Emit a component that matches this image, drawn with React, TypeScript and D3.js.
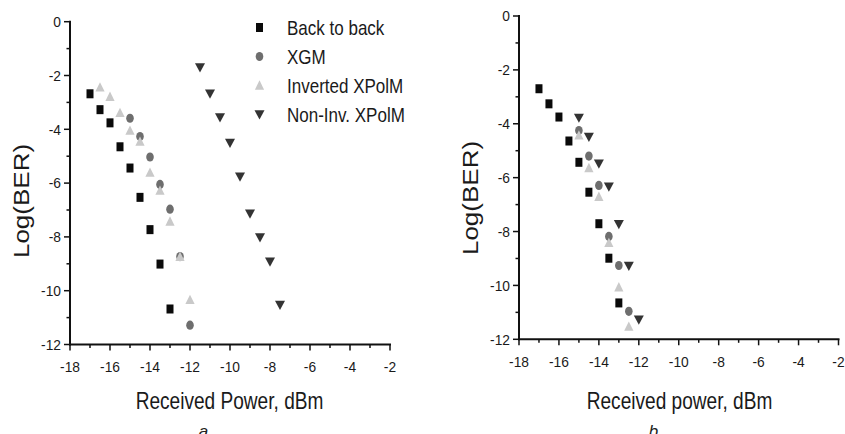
import React from "react";
import * as d3 from "d3";

// ---------- data ----------
const seriesNames = ["Back to back", "XGM", "Inverted XPolM", "Non-Inv. XPolM"];

// Panel a
const aB2BX = [-17, -16.5, -16, -15.5, -15, -14.5, -14, -13.5, -13];
const aB2BY = [-2.68, -3.27, -3.76, -4.65, -5.44, -6.53, -7.73, -9.01, -10.68];
const aXGMX = [-15, -14.5, -14, -13.5, -13, -12.5, -12];
const aXGMY = [-3.59, -4.27, -5.03, -6.05, -6.97, -8.73, -11.28];
const aInvX = [-16.5, -16, -15.5, -15, -14.5, -14, -13.5, -13, -12.5, -12];
const aInvY = [-2.44, -2.79, -3.39, -4.05, -4.46, -5.61, -6.28, -7.43, -8.74, -10.34];
const aNonX = [-11.5, -11, -10.5, -10, -9.5, -9, -8.5, -8, -7.5];
const aNonY = [-1.7, -2.68, -3.56, -4.51, -5.76, -7.14, -8.02, -8.92, -10.53];

// Panel b
const bB2BX = [-17, -16.5, -16, -15.5, -15, -14.5, -14, -13.5, -13];
const bB2BY = [-2.7, -3.26, -3.75, -4.64, -5.43, -6.54, -7.71, -8.99, -10.65];
const bXGMX = [-15, -14.5, -14, -13.5, -13, -12.5];
const bXGMY = [-4.25, -5.2, -6.29, -8.18, -9.26, -10.96];
const bInvX = [-15, -14.5, -14, -13.5, -13, -12.5];
const bInvY = [-4.43, -5.64, -6.71, -8.42, -10.07, -11.53];
const bNonX = [-15, -14.5, -14, -13.5, -13, -12.5, -12];
const bNonY = [-3.78, -4.49, -5.48, -6.34, -7.73, -9.28, -11.27];

const xDomain = [-18, -2];
const yDomain = [-12, 0];
const xMajor = [-18, -16, -14, -12, -10, -8, -6, -4, -2];
const yMajor = [0, -2, -4, -6, -8, -10, -12];

const COLORS = ["#0a0a0a", "#6e6e6e", "#c9c9c9", "#333333"];
const FONT = "'Liberation Sans', Arial, sans-serif";

type Pt = [number, number];
const zip = (xs: number[], ys: number[]): Pt[] => xs.map((x, i) => [x, ys[i]]);

function Marker({ kind, x, y }: { kind: number; x: number; y: number }) {
  const c = COLORS[kind];
  if (kind === 0) return <rect x={x - 3.5} y={y - 4.5} width={7} height={9} fill={c} />;
  if (kind === 1) return <ellipse cx={x} cy={y} rx={3.8} ry={4.6} fill={c} />;
  if (kind === 2)
    return <path d={`M${x},${y - 5.2}L${x + 4.6},${y + 4.2}L${x - 4.6},${y + 4.2}Z`} fill={c} />;
  return <path d={`M${x - 5},${y - 4.2}L${x + 5},${y - 4.2}L${x},${y + 5}Z`} fill={c} />;
}

function Panel({
  x0, x1, y0, y1, series, xTitle, letter, titleX, yTitleX, yTitleY, legend,
}: {
  x0: number; x1: number; y0: number; y1: number; series: Pt[][]; xTitle: string; letter: string;
  titleX: number; yTitleX: number; yTitleY: number; legend: boolean;
}) {
  const xs = d3.scaleLinear().domain(xDomain).range([x0, x1]);
  const ys = d3.scaleLinear().domain(yDomain).range([y1, y0]);
  const xMinor = d3.range(-17, -2, 2);
  const yMinor = d3.range(-11, 0, 2);
  const ax = "#111";
  return (
    <g>
      {/* axes */}
      <line x1={x0} x2={x0} y1={y0 - 1} y2={y1 + 1} stroke={ax} strokeWidth={2} />
      <line x1={x0 - 1} x2={x1 + 1} y1={y1} y2={y1} stroke={ax} strokeWidth={2} />
      {yMajor.map((v) => (
        <g key={"ym" + v}>
          <line x1={x0 - 6} x2={x0} y1={ys(v)} y2={ys(v)} stroke={ax} strokeWidth={1.5} />
          <g transform={`translate(${x0 - 9},${ys(v) + 5.3}) scale(0.92,1)`}>
            <text textAnchor="end" fontSize={15} fontFamily={FONT} fill="#1a1a1a">{v}</text>
          </g>
        </g>
      ))}
      {yMinor.map((v) => (
        <line key={"yn" + v} x1={x0 - 3.5} x2={x0} y1={ys(v)} y2={ys(v)} stroke={ax} strokeWidth={1.5} />
      ))}
      {xMajor.map((v) => (
        <g key={"xm" + v}>
          <line x1={xs(v)} x2={xs(v)} y1={y1} y2={y1 + 6} stroke={ax} strokeWidth={1.5} />
          <g transform={`translate(${xs(v)},${y1 + 27.5}) scale(0.92,1)`}>
            <text textAnchor="middle" fontSize={15} fontFamily={FONT} fill="#1a1a1a">{v}</text>
          </g>
        </g>
      ))}
      {xMinor.map((v) => (
        <line key={"xn" + v} x1={xs(v)} x2={xs(v)} y1={y1} y2={y1 + 3.5} stroke={ax} strokeWidth={1.5} />
      ))}
      {/* titles */}
      <g transform={`translate(${titleX},409) scale(0.83,1)`}>
        <text textAnchor="middle" fontSize={23} fontFamily={FONT} fill="#1a1a1a">{xTitle}</text>
      </g>
      <g transform={`translate(${yTitleX},${yTitleY}) scale(0.83,1) rotate(-90)`}>
        <text textAnchor="middle" y={9} fontSize={26} fontFamily={FONT} fill="#1a1a1a">Log(BER)</text>
      </g>
      <text x={titleX - 26} y={437} textAnchor="middle" fontSize={17} fontStyle="italic" fontFamily={FONT} fill="#222">
        {letter}
      </text>
      {/* data */}
      {series.map((pts, k) =>
        pts.map((p, i) => <Marker key={k + "-" + i} kind={k} x={xs(p[0])} y={ys(p[1])} />)
      )}
      {legend &&
        seriesNames.map((n, k) => (
          <g key={"lg" + k}>
            <Marker kind={k} x={259.5} y={27.5 + k * 29} />
            <g transform={`translate(287,${34.5 + k * 29}) scale(0.83,1)`}>
              <text fontSize={20.5} fontFamily={FONT} fill="#1a1a1a">{n}</text>
            </g>
          </g>
        ))}
    </g>
  );
}

export default function App() {
  const seriesA = [zip(aB2BX, aB2BY), zip(aXGMX, aXGMY), zip(aInvX, aInvY), zip(aNonX, aNonY)];
  const seriesB = [zip(bB2BX, bB2BY), zip(bXGMX, bXGMY), zip(bInvX, bInvY), zip(bNonX, bNonY)];
  return (
    <svg
      width={845}
      height={434}
      style={{ position: "absolute", left: 0, top: 0, background: "#fff" }}
    >
      <rect width={845} height={434} fill="#fff" />
      <Panel x0={70} x1={390} y0={21.7} y1={344.5} series={seriesA} xTitle="Received Power, dBm" letter="a"
        titleX={229.5} yTitleX={22} yTitleY={201} legend={true} />
      <Panel x0={519} x1={838.5} y0={16} y1={339.3} series={seriesB} xTitle="Received power, dBm" letter="b"
        titleX={679.5} yTitleX={471} yTitleY={198} legend={false} />
    </svg>
  );
}
